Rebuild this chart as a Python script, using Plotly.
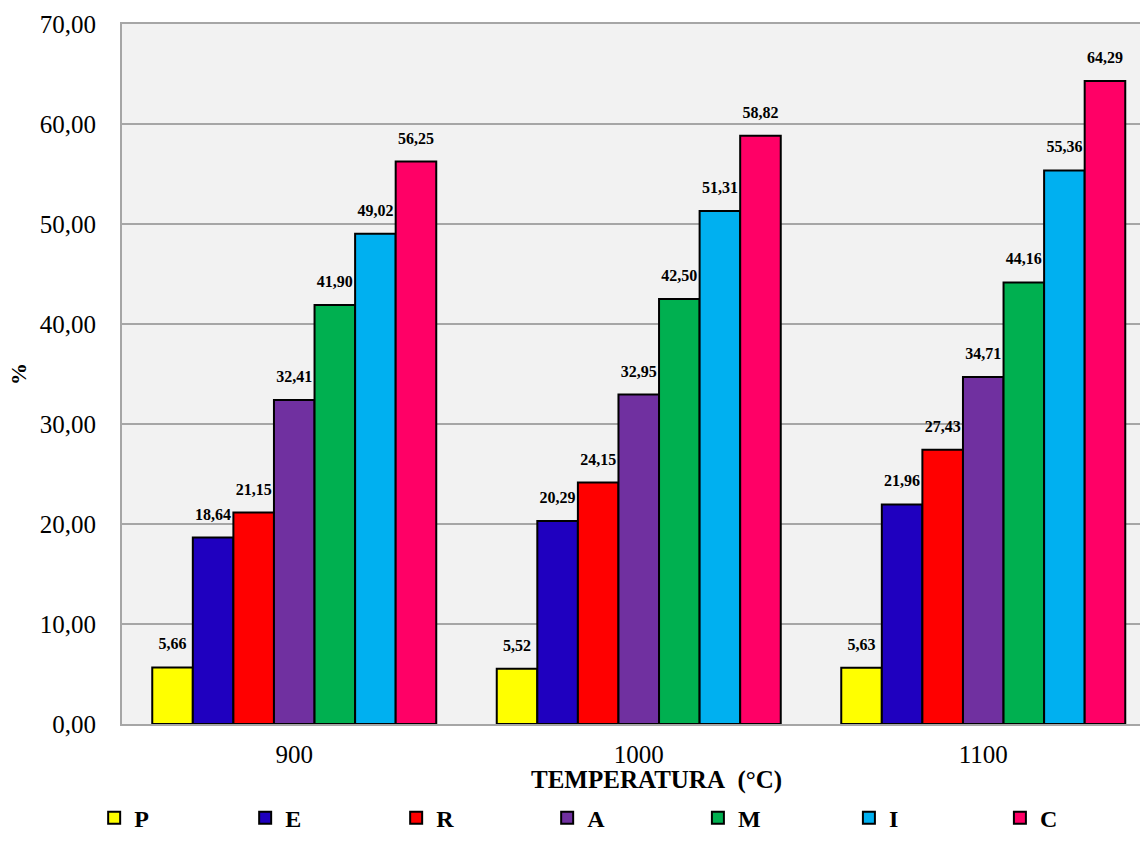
import plotly.graph_objects as go

temperatures = ["900", "1000", "1100"]
series_names = ["P", "E", "R", "A", "M", "I", "C"]
P = [5.66, 5.52, 5.63]
E = [18.64, 20.29, 21.96]
R = [21.15, 24.15, 27.43]
A = [32.41, 32.95, 34.71]
M = [41.90, 42.50, 44.16]
I = [49.02, 51.31, 55.36]
C = [56.25, 58.82, 64.29]
series_values = [P, E, R, A, M, I, C]
colors = ["#FFFF00", "#1F00BF", "#FF0000", "#7030A0", "#00B050", "#00B0F0", "#FF0066"]

font_family = "Liberation Serif"

# the value sits on a first line; an invisible second line lifts it off the bar
label_template = ("<span style='font-size:16px'><b>%{y:.2f}</b></span>"
                  "<br><span style='color:rgba(0,0,0,0)'>.</span>")

fig = go.Figure()
for i, (name, vals, col) in enumerate(zip(series_names, series_values, colors)):
    fig.add_trace(go.Bar(
        name=f"<b>{name}</b>", x=temperatures, y=vals,
        marker=dict(color=col, line=dict(color="black", width=2)),
        texttemplate=label_template, textposition="outside",
        textfont=dict(family=font_family, size=10, color="black"),
        constraintext="none", cliponaxis=False,
        legend="legend" if i < 4 else "legend2",
    ))

legend_style = dict(
    orientation="h", xref="container", xanchor="left",
    yref="container", y=0.033, yanchor="middle",
    entrywidth=106, entrywidthmode="pixels",
    font=dict(size=24), itemsizing="constant", traceorder="normal",
)

fig.update_layout(
    width=1140, height=846,
    margin=dict(l=122, r=0, t=24, b=122, autoexpand=False),
    paper_bgcolor="white", plot_bgcolor="#F2F2F2",
    barmode="group", bargap=0.1756, bargroupgap=0,
    separators=",.",
    font=dict(family=font_family, color="black"),
    xaxis=dict(
        type="category", range=[-0.5, 2.455],
        tickfont=dict(size=25), ticklabelstandoff=7,
        showline=True, linecolor="#A6A6A6", linewidth=2, mirror=True,
        ticks="",
    ),
    yaxis=dict(
        range=[0, 70], dtick=10, tickformat=".2f",
        tickfont=dict(size=25), ticklabelstandoff=19,
        title=dict(text="<b>%</b>", font=dict(size=22), standoff=7),
        showgrid=True, gridcolor="#A6A6A6", gridwidth=1.5,
        showline=True, linecolor="#A6A6A6", linewidth=2,
        zeroline=False, ticks="",
    ),
    legend=dict(x=0.0826, **legend_style),
    legend2=dict(x=0.6122, **legend_style),
    annotations=[dict(
        text="<b>TEMPERATURA&nbsp; (°C)</b>", xref="paper", yref="paper",
        x=0.5246, y=-0.08, xanchor="center", yanchor="middle",
        showarrow=False, font=dict(size=25, color="black"),
    )],
)

fig.write_html("out.html")
